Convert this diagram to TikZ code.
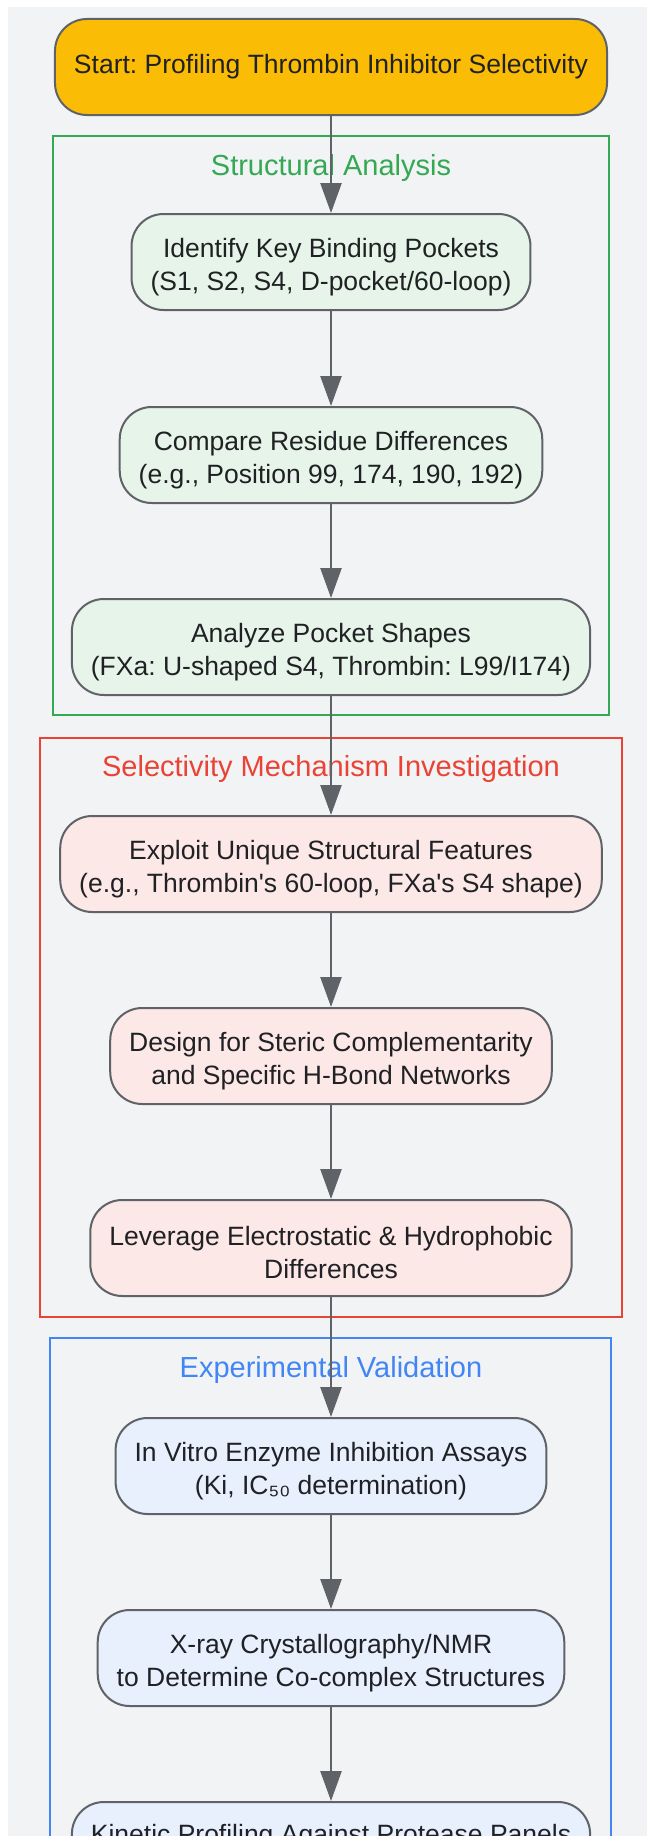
\documentclass[tikz,border=0pt]{standalone}
\usepackage{fontspec}
\setmainfont{Liberation Sans}
\usetikzlibrary{arrows.meta}
\frenchspacing

\definecolor{canvas}{HTML}{F1F3F4}
\definecolor{ink}{HTML}{202124}
\definecolor{edgegray}{HTML}{5F6368}
\definecolor{startfill}{HTML}{FBBC05}
\definecolor{structgreen}{HTML}{34A853}
\definecolor{structfill}{HTML}{E6F4EA}
\definecolor{selectred}{HTML}{EA4335}
\definecolor{selectfill}{HTML}{FCE8E6}
\definecolor{validblue}{HTML}{4285F4}
\definecolor{validfill}{HTML}{E8F0FE}

\newcommand{\stepfont}{\fontsize{26.5}{33}\selectfont}
\newcommand{\titlefont}{\fontsize{29}{35}\selectfont}
% taller first line, so two-line texts sit a little lower
\newcommand{\lift}{\rule{0pt}{29pt}}

\tikzset{
  stepbox/.style={draw=edgegray, line width=2pt, rounded corners=32pt,
    minimum height=96pt, inner xsep=19pt, align=center, text=ink, font=\stepfont},
  startbox/.style={stepbox, fill=startfill},
  structbox/.style={stepbox, fill=structfill},
  selectbox/.style={stepbox, fill=selectfill},
  validbox/.style={stepbox, fill=validfill},
  frame/.style={line width=2pt},
  grouptitle/.style={anchor=base, font=\titlefont},
  flow/.style={draw=edgegray, line width=2.5pt, -{Triangle[length=30pt,width=21pt]}}
}

\begin{document}
\begin{tikzpicture}[x=1pt,y=-1pt]
  \useasboundingbox (0,0) rectangle (647,1836);
  \clip (0,0) rectangle (647,1836);
  \fill[canvas] (8,7) rectangle (647,1836);

  % groups
  \draw[frame, structgreen] (53,136) rectangle (609,715);
  \draw[frame, selectred]   (40,738) rectangle (622,1317);
  \draw[frame, validblue]   (50,1338) rectangle (611,1900);
  \node[grouptitle, text=structgreen] (structtitle) at (331,175)  {Structural Analysis};
  \node[grouptitle, text=selectred]   (selecttitle) at (331,776)  {Selectivity Mechanism Investigation};
  \node[grouptitle, text=validblue]   (validtitle)  at (331,1377) {Experimental Validation};

  % steps
  \node[startbox]  (start)    at (331,67)   {Start: Profiling Thrombin Inhibitor Selectivity};
  \node[structbox] (pockets)  at (331,262)  {\lift Identify Key Binding Pockets\\(S1, S2, S4, D-pocket/60-loop)};
  \node[structbox] (residues) at (331,455)  {\lift Compare Residue Differences\\(e.g., Position 99, 174, 190, 192)};
  \node[structbox] (shapes)   at (331,647)  {\lift Analyze Pocket Shapes\\(FXa: U-shaped S4, Thrombin: L99/I174)};
  \node[selectbox] (exploit)  at (331,864)  {\lift Exploit Unique Structural Features\\(e.g., Thrombin\textquotesingle s 60-loop, FXa\textquotesingle s S4 shape)};
  \node[selectbox] (steric)   at (331,1056) {\lift Design for Steric Complementarity\\and Specific H-Bond Networks};
  \node[selectbox] (electro)  at (331,1248) {\lift Leverage Electrostatic \& Hydrophobic\\Differences};
  \node[validbox]  (assays)   at (331,1466) {\lift In Vitro Enzyme Inhibition Assays\\(Ki, IC₅₀ determination)};
  \node[validbox]  (xray)     at (331,1658) {\lift X-ray Crystallography/NMR\\to Determine Co-complex Structures};
  \node[validbox]  (kinetic)  at (331,1850) {\lift Kinetic Profiling Against Protease Panels\\\strut};

  % links
  \draw[flow] (start)    -- (pockets);
  \draw[flow] (pockets)  -- (residues);
  \draw[flow] (residues) -- (shapes);
  \draw[flow] (shapes)   -- (exploit);
  \draw[flow] (exploit)  -- (steric);
  \draw[flow] (steric)   -- (electro);
  \draw[flow] (electro)  -- (assays);
  \draw[flow] (assays)   -- (xray);
  \draw[flow] (xray)     -- (kinetic);
\end{tikzpicture}
\end{document}
